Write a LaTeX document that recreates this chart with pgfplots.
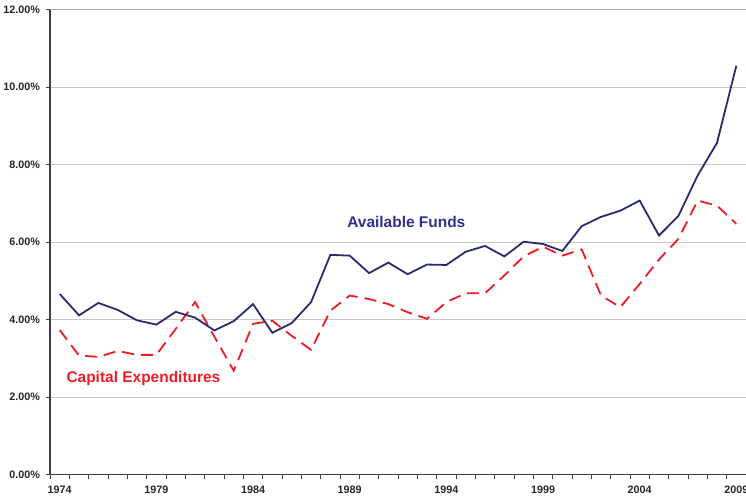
\documentclass[border=0pt]{standalone}
\usepackage{pgfplots}
\pgfplotsset{compat=1.18}
\usepackage{pgfplotstable}
\usepackage{fontspec}
\setmainfont{Liberation Sans}
\definecolor{navyline}{RGB}{43,42,112}
\definecolor{navytext}{RGB}{46,49,140}
\definecolor{redline}{RGB}{237,28,36}
\definecolor{axisdark}{RGB}{64,64,64}
\definecolor{gridgray}{RGB}{200,200,200}
\definecolor{bordergray}{RGB}{170,170,170}

\pgfplotstableread{
x year af ce
0 1974 4.66 3.73
1 1975 4.11 3.07
2 1976 4.43 3.04
3 1977 4.25 3.19
4 1978 3.98 3.09
5 1979 3.87 3.09
6 1980 4.20 3.76
7 1981 4.05 4.45
8 1982 3.72 3.56
9 1983 3.96 2.68
10 1984 4.40 3.89
11 1985 3.66 3.97
12 1986 3.91 3.58
13 1987 4.45 3.22
14 1988 5.67 4.23
15 1989 5.65 4.62
16 1990 5.20 4.53
17 1991 5.47 4.40
18 1992 5.17 4.19
19 1993 5.42 4.02
20 1994 5.41 4.45
21 1995 5.75 4.68
22 1996 5.90 4.68
23 1997 5.63 5.14
24 1998 6.01 5.63
25 1999 5.95 5.88
26 2000 5.77 5.65
27 2001 6.41 5.81
28 2002 6.65 4.62
29 2003 6.81 4.32
30 2004 7.07 4.92
31 2005 6.17 5.55
32 2006 6.67 6.08
33 2007 7.72 7.07
34 2008 8.56 6.94
35 2009 10.55 6.47
}\datatable

\begin{document}
\begin{tikzpicture}[trim axis right]
\begin{axis}[
  scale only axis,
  width=695bp, height=464.5bp,
  xmin=-0.5, xmax=35.5,
  ymin=0, ymax=12,
  axis x line*=bottom,
  axis y line*=left,
  axis line style={draw=axisdark, line width=1.2bp},
  tick align=outside,
  tick style={draw=axisdark, line width=0.8bp},
  major tick length=4.5bp,
  xtick={-0.5,0.5,...,35.5},
  xticklabels={},
  extra x ticks={0,5,10,15,20,25,30,35},
  extra x tick labels={1974,1979,1984,1989,1994,1999,2004,2009},
  extra x tick style={major tick length=0pt, grid=none, tick style={draw=none}},
  ytick={0,2,...,12},
  ymajorgrids=true,
  grid style={draw=gridgray, line width=0.8bp},
  /pgf/number format/assume math mode=true,
  yticklabel={\pgfmathprintnumber[fixed,fixed zerofill,precision=2]{\tick}\%},
  ticklabel style={font=\fontsize{10.8}{12}\selectfont\bfseries, text=black!85},
  xticklabel style={yshift=-8bp},
  yticklabel style={xshift=-2bp},
  clip=false,
]
\draw[draw=bordergray, line width=1bp] (rel axis cs:0,1) -- (rel axis cs:1,1) -- (rel axis cs:1,0);
\addplot[color=redline, line width=1.8bp, dash pattern=on 12bp off 7bp] table[x=x, y=ce] {\datatable};
\addplot[color=navyline, line width=1.8bp] table[x=x, y=af] {\datatable};
\node[font=\fontsize{15.5}{18}\selectfont\bfseries, text=navytext] at (axis cs:17.93,6.51) {Available Funds};
\node[font=\fontsize{15.5}{18}\selectfont\bfseries, text=redline] at (axis cs:4.33,2.48) {Capital Expenditures};
\coordinate (bl) at (rel axis cs:0,0);
\coordinate (tl) at (rel axis cs:0,1);
\end{axis}
\path (bl) ++(-50bp,-21bp);
\path (tl) ++(-50bp,9.5bp);
\end{tikzpicture}
\end{document}
